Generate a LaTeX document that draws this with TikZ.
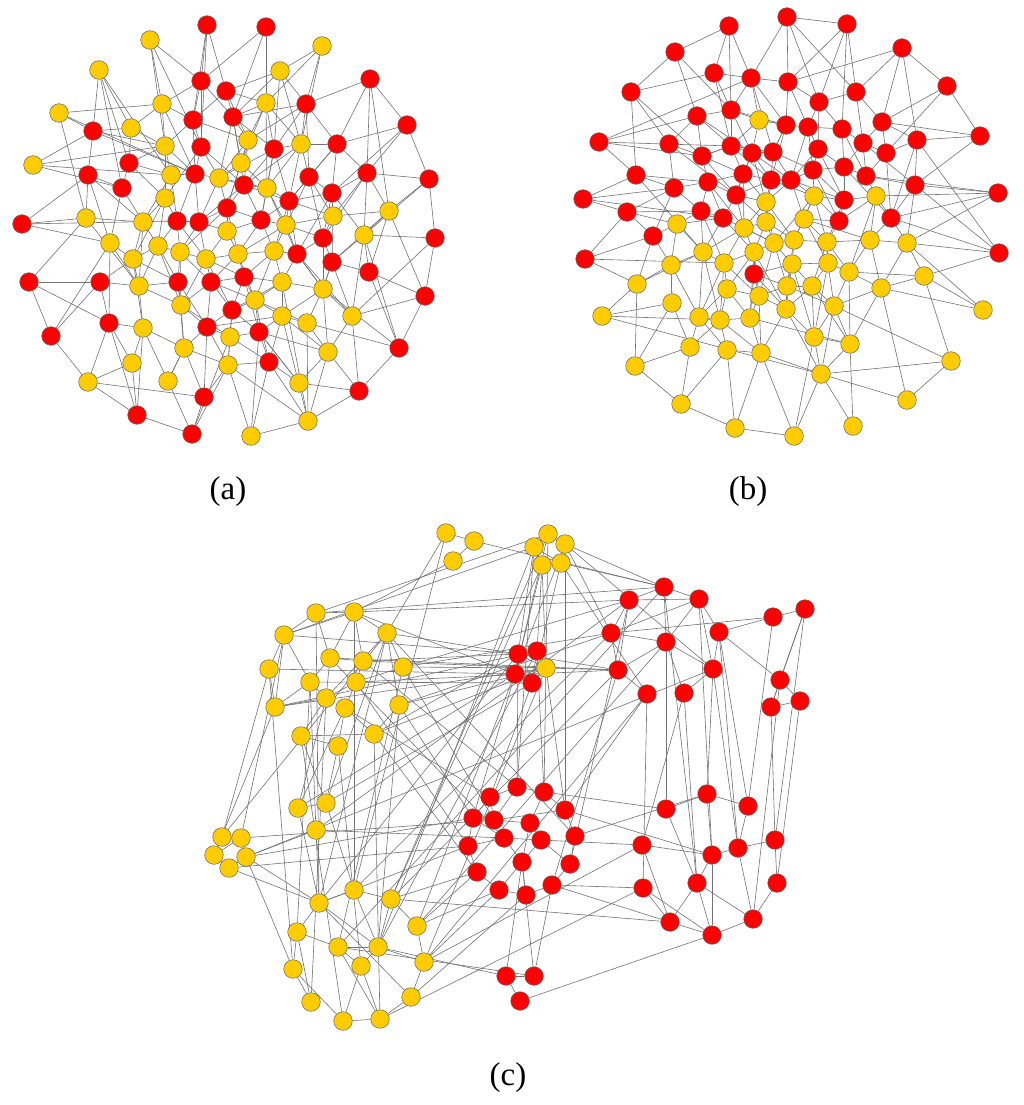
\documentclass[tikz,border=0pt]{standalone}
\usepackage{fontspec}
\setmainfont{Liberation Serif}
\pgfdeclarelayer{bg}
\pgfsetlayers{bg,main}
\definecolor{nred}{HTML}{FF0000}
\definecolor{nyel}{HTML}{FFCC00}
\tikzset{
 nd/.style={circle,inner sep=0pt,minimum size=18.6pt,line width=0.5pt,draw=black!60},
 ed/.style={draw=black!55,line width=0.6pt},
 lab/.style={font=\fontsize{33}{38}\selectfont}
}
\begin{document}
\begin{tikzpicture}[x=1pt,y=-1pt]
\useasboundingbox (0,0) rectangle (1024,1105);
% ---------- panel (a) ----------
\foreach \i/\x/\y/\s in {1/207/25/nred, 2/266/27/nred, 3/150/40/nyel, 4/322/46/nyel, 5/99/70/nyel, 6/280/71/nyel, 7/370/79/nred, 8/201/81/nred, 9/226/91/nred, 10/162/104/nyel, 11/266/103/nyel, 12/306/104/nred, 13/59/113/nyel, 14/233/117/nred, 15/193/120/nred, 16/407/125/nred, 17/131/128/nyel, 18/93/131/nred, 19/248/140/nyel, 20/337/144/nred, 21/301/144/nyel, 22/165/146/nyel, 23/201/147/nred, 24/274/149/nred, 25/241/163/nyel, 26/129/163/nred, 27/33/165/nyel, 28/367/173/nred, 29/88/175/nred, 30/171/175/nyel, 31/195/174/nred, 32/309/177/nred, 33/219/178/nyel, 34/429/179/nred, 35/244/185/nred, 36/267/188/nyel, 37/122/188/nred, 38/332/193/nred, 39/165/198/nyel, 40/289/201/nred, 41/227/208/nred, 42/389/211/nyel, 43/333/216/nyel, 44/86/218/nyel, 45/261/220/nred, 46/177/221/nred, 47/199/222/nred, 48/143/222/nyel, 49/22/224/nred, 50/286/225/nyel, 51/227/231/nyel, 52/364/235/nyel, 53/323/238/nred, 54/435/238/nred, 55/110/243/nyel, 56/158/246/nyel, 57/274/251/nyel, 58/180/252/nyel, 59/238/254/nyel, 60/297/254/nred, 61/133/259/nyel, 62/206/259/nyel, 63/332/262/nred, 64/369/272/nred, 65/244/277/nred, 66/29/282/nred, 67/100/282/nred, 68/178/282/nred, 69/211/282/nred, 70/139/286/nyel, 71/282/282/nyel, 72/323/289/nyel, 73/425/296/nred, 74/255/300/nyel, 75/181/305/nyel, 76/232/310/nred, 77/282/316/nyel, 78/352/316/nyel, 79/109/323/nred, 80/207/327/nred, 81/307/323/nyel, 82/143/328/nyel, 83/259/332/nred, 84/51/336/nred, 85/230/337/nyel, 86/184/348/nyel, 87/399/348/nred, 88/328/352/nyel, 89/269/362/nred, 90/132/363/nyel, 91/228/365/nyel, 92/88/382/nyel, 93/168/381/nyel, 94/299/383/nyel, 95/359/391/nred, 96/204/397/nred, 97/137/415/nred, 98/308/421/nyel, 99/192/434/nred, 100/251/436/nyel}
  \node[nd,fill=\s] (a\i) at (\x,\y) {};
% ---------- panel (b) ----------
\foreach \i/\x/\y/\s in {1/787/17/nred, 2/729/26/nred, 3/847/24/nred, 4/902/48/nred, 5/675/52/nred, 6/714/73/nred, 7/751/78/nred, 8/788/82/nred, 9/947/86/nred, 10/631/92/nred, 11/856/92/nred, 12/819/102/nred, 13/731/110/nred, 14/697/116/nred, 15/882/122/nred, 16/786/125/nred, 17/808/127/nred, 18/842/129/nred, 19/980/136/nred, 20/917/140/nred, 21/599/142/nred, 22/863/143/nred, 23/669/144/nred, 24/731/146/nred, 25/818/149/nred, 26/752/153/nred, 27/773/152/nred, 28/886/153/nred, 29/702/156/nred, 30/844/167/nred, 31/813/170/nred, 32/743/174/nred, 33/636/175/nred, 34/866/176/nred, 35/791/180/nred, 36/771/180/nred, 37/708/182/nred, 38/915/185/nred, 39/674/188/nred, 40/998/193/nred, 41/736/195/nred, 42/583/199/nred, 43/844/200/nred, 44/701/211/nred, 45/627/212/nred, 46/891/218/nred, 47/723/218/nred, 48/839/221/nred, 49/653/236/nred, 50/999/253/nred, 51/585/259/nred, 52/754/274/nred, 53/759/120/nyel, 54/814/196/nyel, 55/876/196/nyel, 56/766/202/nyel, 57/804/219/nyel, 58/766/222/nyel, 59/677/224/nyel, 60/744/228/nyel, 61/794/240/nyel, 62/827/242/nyel, 63/870/240/nyel, 64/907/243/nyel, 65/774/243/nyel, 66/703/252/nyel, 67/754/252/nyel, 68/724/263/nyel, 69/671/265/nyel, 70/792/264/nyel, 71/828/263/nyel, 72/849/272/nyel, 73/924/276/nyel, 74/637/284/nyel, 75/787/286/nyel, 76/812/286/nyel, 77/881/288/nyel, 78/727/289/nyel, 79/759/296/nyel, 80/672/303/nyel, 81/786/309/nyel, 82/834/306/nyel, 83/983/310/nyel, 84/602/316/nyel, 85/699/317/nyel, 86/750/318/nyel, 87/720/320/nyel, 88/814/337/nyel, 89/850/344/nyel, 90/690/347/nyel, 91/727/350/nyel, 92/761/353/nyel, 93/951/361/nyel, 94/635/366/nyel, 95/821/374/nyel, 96/907/400/nyel, 97/681/404/nyel, 98/853/426/nyel, 99/735/428/nyel, 100/794/436/nyel}
  \node[nd,fill=\s] (b\i) at (\x,\y) {};
% ---------- panel (c) ----------
\foreach \i/\x/\y/\s in {1/446/533/nyel, 2/474/541/nyel, 3/453/561/nyel, 4/548/534/nyel, 5/534/547/nyel, 6/565/544/nyel, 7/542/565/nyel, 8/561/563/nyel, 9/316/613/nyel, 10/354/612/nyel, 11/284/635/nyel, 12/387/633/nyel, 13/269/669/nyel, 14/330/658/nyel, 15/363/661/nyel, 16/403/667/nyel, 17/310/682/nyel, 18/356/682/nyel, 19/326/698/nyel, 20/345/708/nyel, 21/275/707/nyel, 22/399/705/nyel, 23/301/736/nyel, 24/374/734/nyel, 25/338/746/nyel, 26/546/668/nyel, 27/298/808/nyel, 28/326/803/nyel, 29/316/830/nyel, 30/222/837/nyel, 31/241/838/nyel, 32/214/855/nyel, 33/246/857/nyel, 34/229/868/nyel, 35/354/890/nyel, 36/319/903/nyel, 37/391/899/nyel, 38/417/926/nyel, 39/297/932/nyel, 40/338/947/nyel, 41/378/947/nyel, 42/361/966/nyel, 43/424/962/nyel, 44/293/969/nyel, 45/411/997/nyel, 46/311/1002/nyel, 47/343/1021/nyel, 48/380/1019/nyel, 49/664/587/nred, 50/629/600/nred, 51/699/599/nred, 52/773/617/nred, 53/805/609/nred, 54/611/633/nred, 55/719/632/nred, 56/666/642/nred, 57/518/654/nred, 58/537/651/nred, 59/515/674/nred, 60/532/683/nred, 61/618/670/nred, 62/713/669/nred, 63/647/694/nred, 64/684/693/nred, 65/780/680/nred, 66/771/707/nred, 67/800/701/nred, 68/517/787/nred, 69/490/797/nred, 70/544/792/nred, 71/565/810/nred, 72/473/818/nred, 73/494/820/nred, 74/530/823/nred, 75/504/838/nred, 76/541/840/nred, 77/575/836/nred, 78/468/846/nred, 79/522/862/nred, 80/570/864/nred, 81/477/872/nred, 82/499/890/nred, 83/526/895/nred, 84/552/885/nred, 85/666/809/nred, 86/707/794/nred, 87/748/806/nred, 88/642/845/nred, 89/712/855/nred, 90/738/848/nred, 91/775/840/nred, 92/697/883/nred, 93/643/888/nred, 94/777/883/nred, 95/670/922/nred, 96/712/935/nred, 97/753/919/nred, 98/506/976/nred, 99/534/976/nred, 100/520/1001/nred}
  \node[nd,fill=\s] (c\i) at (\x,\y) {};
% ---------- labels ----------
\node[lab] (la) at (228,492) {(a)};
\node[lab] (lb) at (748,492) {(b)};
\node[lab] (lc) at (508,1078) {(c)};
% ---------- edges ----------
\begin{pgfonlayer}{bg}
\fill[white] (0,0) rectangle (1024,1105);
\foreach \u/\v in {1/8, 1/15, 1/9, 3/8, 3/10, 3/22, 5/18, 5/17, 5/26, 5/37, 13/10, 13/18, 13/44, 18/22, 18/17, 18/29, 27/18, 27/22, 49/44, 49/29, 49/55, 44/48, 44/29, 2/11, 2/8, 4/6, 4/11, 6/9, 6/21, 6/24, 7/12, 7/20, 7/42, 16/20, 16/34, 34/28, 34/54, 12/20, 12/19, 12/14, 9/14, 9/11, 11/14, 66/67, 66/84, 66/44, 84/67, 84/55, 67/70, 67/79, 79/82, 79/92, 79/90, 79/97, 79/55, 92/90, 92/96, 90/97, 93/99, 93/82, 93/86, 96/99, 96/91, 97/82, 99/91, 54/73, 54/52, 64/73, 52/64, 52/87, 52/63, 64/87, 72/78, 72/63, 72/60, 78/88, 78/95, 81/88, 81/87, 81/98, 88/95, 88/98, 94/95, 94/89, 89/98, 100/98, 89/100, 98/91,
 8/15, 8/14, 8/23, 10/15, 10/22, 10/31, 15/23, 15/19, 14/19, 14/25, 14/24, 11/19, 11/21, 11/24, 19/25, 19/33, 21/24, 21/32, 21/36, 20/32, 20/38, 20/28, 24/35, 24/36, 24/40, 23/31, 23/33, 22/26, 22/30, 22/39, 26/30, 26/37, 26/39, 29/37, 29/55, 30/31, 30/46, 30/48, 31/33, 31/47, 33/35, 33/41, 35/36, 35/41, 35/45, 36/40, 36/50, 32/38, 32/40, 32/43, 28/38, 28/42, 28/43, 38/43, 38/53, 40/45, 40/50, 40/60, 41/45, 41/47, 41/51, 42/52, 42/43, 43/53, 45/50, 45/57, 45/59, 46/47, 46/56, 46/58, 47/51, 47/62, 48/56, 48/61, 37/48, 37/55, 39/46, 39/48, 39/56, 50/53, 50/57, 50/60, 51/59, 51/62, 53/60, 53/63, 55/61, 56/58, 56/61, 56/68, 57/60, 57/65, 57/71, 58/62, 58/68, 58/69, 59/62, 59/65, 59/69, 60/71, 60/72, 61/70, 61/68, 62/69, 62/75, 63/72, 63/64, 65/71, 65/74, 65/76, 68/70, 68/75, 68/80, 69/75, 69/76, 69/80, 70/82, 70/75, 71/74, 71/77, 72/77, 72/81, 74/76, 74/77, 74/83, 75/80, 75/86, 76/83, 76/85, 77/81, 77/83, 80/85, 80/86, 80/96, 83/85, 83/89, 85/91, 86/91, 86/93, 82/86, 82/90, 55/70, 61/67, 17/26, 17/22, 10/17, 15/22,
 13/31, 27/30, 49/46, 3/23, 5/30, 7/28, 16/38, 34/42, 42/73, 54/78, 73/78, 87/95, 52/78, 12/32, 4/21, 2/14, 6/14, 9/19, 1/23, 27/37, 18/31, 29/48, 44/70, 66/79, 84/92, 92/97, 97/99, 99/85, 100/83, 100/91, 94/83, 94/88, 95/98, 98/77, 89/77, 87/73, 87/72, 34/52, 16/28, 7/16, 28/52, 20/21, 12/21, 4/12, 6/12, 11/25, 8/10, 9/15,
 14/33, 19/35, 21/35, 24/33, 25/36, 25/41, 33/36, 35/40, 36/45, 38/40, 32/50, 40/43, 43/50, 45/51, 41/59, 50/59, 57/59, 57/74, 59/74, 62/65, 62/76, 65/69, 69/74, 71/76, 71/72, 74/81, 77/80, 76/80, 65/83, 83/88, 77/88, 72/88, 60/78, 53/72, 63/78, 43/63, 38/52, 32/53, 36/60, 40/57, 24/45, 21/40, 19/41, 23/39, 31/46, 33/47, 35/47, 41/58, 46/62, 47/58, 39/61, 48/70, 56/75, 58/75, 61/82, 56/70, 68/86, 75/85, 80/91, 85/89, 86/96, 83/94, 89/91, 71/98, 74/89, 76/91, 22/31, 23/35, 25/33, 15/31, 14/35, 11/36, 12/24, 20/40, 28/53, 42/64, 42/63, 38/60}
  \draw[ed] (a\u) -- (a\v);
\foreach \u/\v in {2/6, 2/13, 5/10, 5/13, 10/6, 10/23, 10/29, 1/7, 21/7, 21/33, 33/42, 33/39, 42/39, 23/29, 23/39, 3/11, 3/8, 3/18, 1/12, 1/11, 4/11, 4/8, 4/20, 4/9, 9/19, 19/20, 19/15, 40/38, 40/34, 40/55, 50/64, 50/38, 50/20, 51/45, 51/68, 74/84, 74/66, 84/95, 80/90, 80/94, 80/69, 90/94, 90/97, 97/99, 99/100, 97/91, 96/93, 96/95, 93/73, 93/95, 93/82, 98/89, 100/95, 95/89, 89/77, 89/88, 83/77, 83/64, 73/72, 77/63,
 6/13, 6/24, 7/13, 7/16, 7/53, 8/16, 8/12, 8/17, 11/12, 11/22, 11/15, 12/17, 12/25, 13/14, 13/24, 13/53, 14/23, 14/29, 14/24, 15/22, 15/28, 16/17, 16/27, 16/53, 17/18, 17/25, 18/22, 18/30, 20/28, 20/38, 22/28, 22/30, 22/34, 24/26, 24/29, 24/32, 25/31, 25/30, 26/27, 26/32, 26/36, 27/35, 27/36, 28/34, 28/46, 29/37, 29/32, 30/34, 30/43, 31/35, 31/54, 31/43, 32/41, 32/37, 34/38, 34/55, 35/36, 35/54, 35/56, 36/41, 36/56, 37/44, 37/41, 38/46, 39/44, 39/49, 41/47, 41/60, 43/48, 43/55, 44/47, 44/59, 45/49, 45/59, 46/55, 46/63, 47/60, 47/66, 48/57, 48/62, 49/59, 49/69, 52/67, 52/79, 52/70, 53/26, 54/57, 54/61, 55/63, 56/58, 56/61, 57/61, 57/62, 58/60, 58/65, 59/66, 60/67, 60/68, 61/65, 61/70, 62/71, 62/72, 63/64, 63/72, 64/73, 65/67, 65/70, 66/68, 66/69, 66/85, 67/68, 67/79, 68/78, 68/87, 69/80, 69/74, 70/75, 70/76, 71/76, 71/82, 72/77, 72/82, 75/76, 75/79, 75/81, 76/82, 76/88, 78/86, 78/87, 79/86, 79/92, 81/88, 81/92, 82/89, 84/80, 85/87, 85/90, 86/92, 87/91, 88/95, 91/99, 92/100, 94/97,
 21/24, 21/14, 42/45, 10/33, 5/14, 2/7, 1/8, 3/12, 4/15, 9/15, 9/28, 19/38, 40/46, 50/46, 83/73, 96/77, 98/95, 100/88, 99/92, 94/74, 84/87, 51/74, 51/49, 33/37, 21/29, 42/47, 45/44, 33/66, 23/41, 14/26, 53/16, 53/24, 13/26, 7/27, 6/7, 2/5, 1/3, 12/18, 25/35, 31/48, 43/62, 54/65, 56/60, 58/67, 61/75, 62/76, 64/77, 55/72, 38/64, 40/64, 50/73, 20/46, 15/20, 8/7, 17/31, 27/16, 29/41, 24/36, 26/56, 36/58, 35/57, 30/31, 47/59, 44/66, 49/74, 39/45, 37/47, 32/60, 41/56, 52/75, 52/86, 78/85, 87/90, 91/92, 81/95, 82/88, 72/89, 77/82, 73/77, 71/88, 70/81, 65/79, 67/86, 68/85, 60/65, 57/71, 62/63, 48/54, 46/64,
 13/16, 24/27, 26/35, 27/31, 29/24, 32/36, 37/39, 41/58, 56/65, 58/61, 60/66, 60/65, 67/78, 68/79, 70/71, 71/72, 75/82, 76/81, 79/81, 86/87, 78/79, 65/75, 61/62, 57/63, 54/62, 48/55, 43/54, 36/54, 35/43, 30/46, 25/43, 22/38, 18/34, 17/35, 16/36, 26/41, 32/56, 37/60, 44/68, 47/67, 59/69, 66/87, 69/85, 85/91, 87/92, 86/89, 92/95, 82/95, 76/89, 70/88, 67/81, 52/81}
  \draw[ed] (b\u) -- (b\v);
\foreach \u/\v in {1/2, 2/3, 1/35, 2/49, 3/10, 1/12, 4/5, 4/6, 5/7, 6/8, 7/8, 5/8, 6/49, 8/49, 7/26, 6/54, 5/57, 4/59, 7/58, 8/60, 4/70, 5/68, 6/71, 8/63, 7/59, 5/11, 4/9, 6/62,
 9/11, 9/14, 10/11, 10/14, 10/15, 10/12, 10/59, 11/13, 11/21, 11/17, 11/57, 12/16, 12/22, 12/19, 14/15, 15/26, 16/26, 17/19, 17/21, 19/21, 18/19, 18/20, 19/23, 23/24, 23/25, 20/25, 15/18, 14/19, 13/21, 20/24, 22/24, 16/18, 9/10, 14/17,
 24/26, 24/57, 22/26, 21/58, 16/50, 12/61, 22/54, 18/61, 13/30, 30/12, 21/32, 17/29, 19/27, 23/28, 11/31, 9/36, 25/28, 20/27,
 15/68, 16/73, 18/78, 22/72, 12/77, 20/69, 24/81, 14/75, 16/54, 10/50, 9/49, 14/61, 15/57, 13/59, 17/60, 21/26,
 27/28, 30/31, 30/32, 31/33, 32/34, 33/34, 31/32, 33/36, 33/29, 33/44, 34/36, 36/35, 36/39, 36/41, 35/37, 37/41, 37/38, 39/44, 40/41, 41/42, 41/43, 42/47, 47/48, 45/48, 43/45, 38/43, 39/46, 44/46, 40/42, 36/45, 35/41, 29/75, 37/95, 43/82, 45/83, 38/81, 27/36, 29/36, 28/35, 39/40, 40/48, 42/48, 44/47,
 28/12, 35/10, 36/12, 37/4, 38/6, 40/16, 41/22, 44/13, 46/19, 39/17, 37/7, 41/5, 42/25, 47/23, 48/24, 43/26,
 49/50, 49/51, 50/51, 51/54, 51/56, 51/55, 51/62, 52/53, 52/55, 52/54, 55/62, 56/62, 54/61, 61/56, 57/58, 57/59, 58/60, 59/60, 58/26, 60/26, 57/26, 59/26, 66/67, 53/65, 65/66, 50/54, 49/56, 50/61, 54/56, 63/61, 64/62, 64/56, 55/65, 26/61, 65/67, 53/66,
 68/70, 68/69, 69/72, 69/73, 72/78, 78/81, 81/82, 82/83, 83/84, 84/80, 80/76, 73/74, 74/76, 75/76, 75/79, 79/83, 79/76, 70/71, 71/77, 73/71, 74/79, 79/98, 98/99, 98/100, 99/84, 99/79, 100/96, 72/75, 75/78, 77/80, 68/73, 70/74, 82/79,
 85/86, 86/87, 85/92, 87/90, 89/90, 88/89, 89/92, 92/95, 92/96, 95/96, 96/97, 91/94, 94/97, 89/96, 90/97, 93/95, 88/95, 92/97, 90/91, 86/89, 93/96,
 70/85, 77/86, 84/93, 84/95, 76/88, 71/89,
 49/92, 51/89, 52/87, 53/91, 62/86, 56/85, 55/90, 61/84, 63/71, 64/88, 66/91, 67/94, 57/68, 58/70, 60/69, 59/72, 50/80, 63/93, 64/92, 26/71, 62/90, 55/87, 65/97,
 54/35, 61/37, 56/38, 57/36, 59/27, 60/28, 58/41, 63/43, 49/40, 50/29, 62/33,
 33/72, 34/78, 31/73, 99/40, 98/41, 82/38, 81/37, 78/36, 88/43, 93/48}
  \draw[ed] (c\u) -- (c\v);
\end{pgfonlayer}
\end{tikzpicture}
\end{document}
